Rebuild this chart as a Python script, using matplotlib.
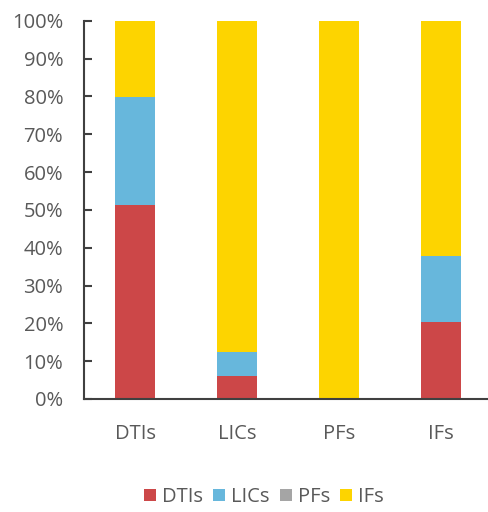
import matplotlib
matplotlib.use('Agg')
import matplotlib.pyplot as plt
import numpy as np
from matplotlib.ticker import PercentFormatter

plt.rcParams['font.family'] = ['Open Sans', 'DejaVu Sans']

categories = ['DTIs', 'LICs', 'PFs', 'IFs']
series_names = ['DTIs', 'LICs', 'PFs', 'IFs']
dtis = [51.4, 6.0, 0.0, 20.3]
lics = [28.4, 6.5, 0.0, 17.5]
pfs = [0.0, 0.0, 0.0, 0.0]
ifs = [20.2, 87.5, 100.0, 62.2]
colors = ['#CC4748', '#67B7DC', '#A5A5A5', '#FDD400']

fig = plt.figure(figsize=(4.88, 5.12), dpi=100)
ax = fig.add_axes([84 / 488, (512 - 399) / 512, (488 - 84) / 488, (399 - 20.7) / 512])

x = np.arange(len(categories))
bottom = np.zeros(len(categories))
handles = []
for name, vals, c in zip(series_names, [dtis, lics, pfs, ifs], colors):
    b = ax.bar(x, vals, 0.4, bottom=bottom, color=c, label=name, edgecolor='none')
    handles.append(b)
    bottom += np.array(vals)

ax.set_xlim(-0.5, 3.46)
ax.set_ylim(0, 100)
ax.set_yticks(np.arange(0, 101, 10))
ax.yaxis.set_major_formatter(PercentFormatter(decimals=0))
ax.set_xticks(x)
ax.set_xticklabels(categories)

for s in ['top', 'right']:
    ax.spines[s].set_visible(False)
for s in ['left', 'bottom']:
    ax.spines[s].set_color('#404040')
    ax.spines[s].set_linewidth(1.5)

ax.tick_params(axis='y', direction='in', length=6, width=1.5, color='#404040',
               labelsize=14.5, labelcolor='#595959', pad=15)
ax.tick_params(axis='x', length=0, labelsize=14.5, labelcolor='#595959', pad=18)

fig.legend(handles, series_names, loc='center', bbox_to_anchor=(264 / 488, 1 - 497 / 512),
           ncol=4, frameon=False, fontsize=14.5, labelcolor='#595959',
           handlelength=0.6, handleheight=0.6, handletextpad=0.3, columnspacing=0.5)

fig.savefig('out.png', dpi=100)
